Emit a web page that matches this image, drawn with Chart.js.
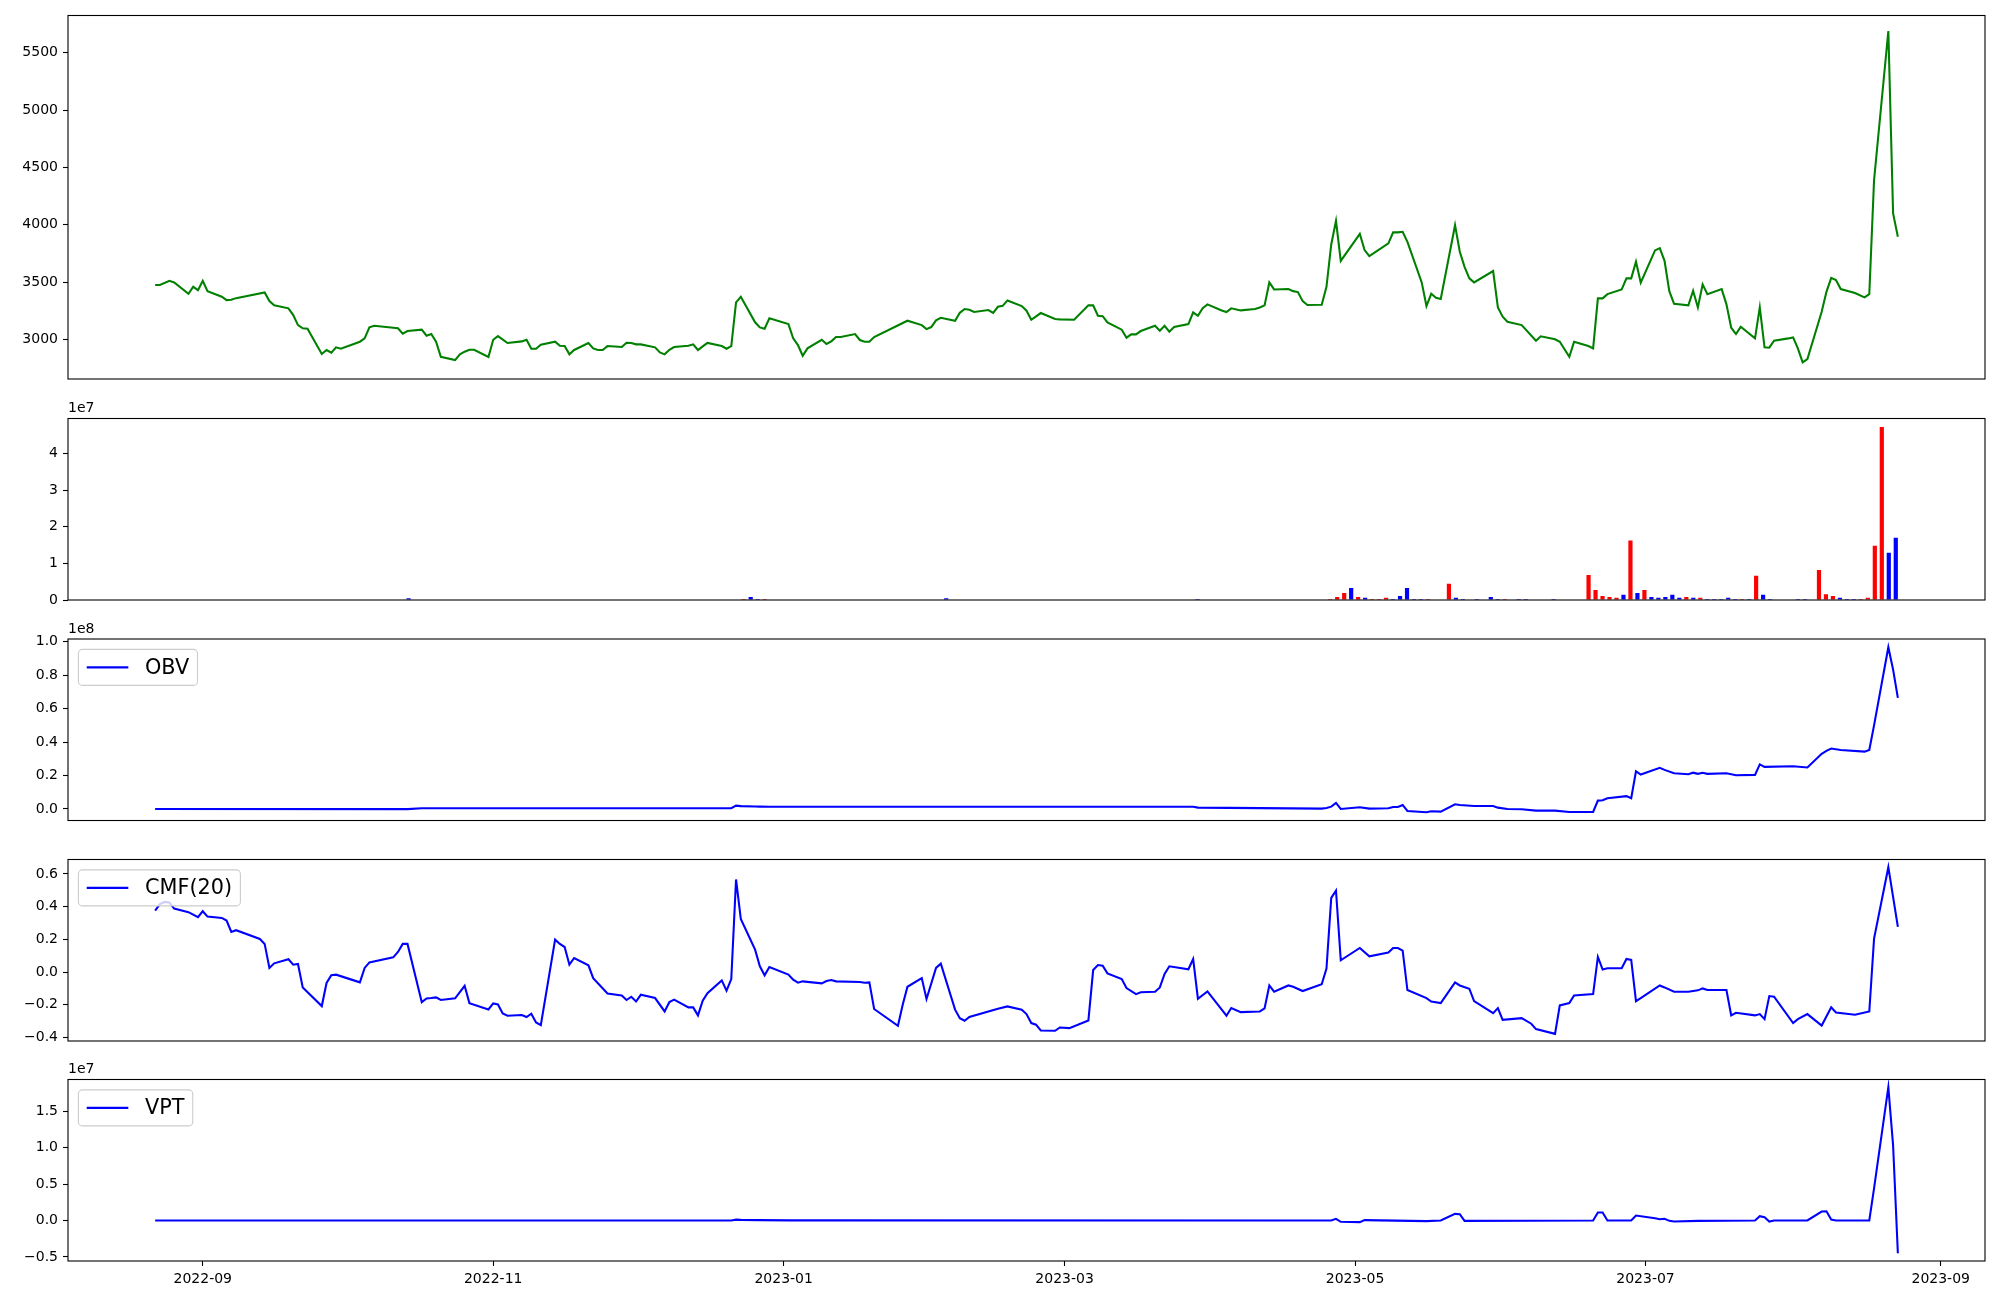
<!DOCTYPE html>
<html><head><meta charset="utf-8">
<script src="https://cdn.jsdelivr.net/npm/chart.js@4.4.0/dist/chart.umd.min.js"></script>
<style>
html,body{margin:0;padding:0;background:#fff;}
body{width:2000px;height:1300px;position:relative;overflow:hidden;}
canvas{position:absolute;left:0;}
</style></head><body>
<canvas id="cPrice" width="2000" height="400" style="top:0px"></canvas>
<canvas id="cVol" width="2000" height="230" style="top:390px"></canvas>
<canvas id="cObv" width="2000" height="231" style="top:610px"></canvas>
<canvas id="cCmf" width="2000" height="231" style="top:830px"></canvas>
<canvas id="cVpt" width="2000" height="250" style="top:1050px"></canvas>
<script>
// ---------------- DATA ----------------
const priceDates = ['2022-08-22','2022-08-23','2022-08-25','2022-08-26','2022-08-29','2022-08-30','2022-08-31','2022-09-01','2022-09-02','2022-09-05','2022-09-06','2022-09-07','2022-09-08','2022-09-14','2022-09-15','2022-09-16','2022-09-19','2022-09-20','2022-09-21','2022-09-22','2022-09-23','2022-09-26','2022-09-27','2022-09-28','2022-09-29','2022-09-30','2022-10-04','2022-10-05','2022-10-06','2022-10-07','2022-10-12','2022-10-13','2022-10-14','2022-10-17','2022-10-18','2022-10-19','2022-10-20','2022-10-21','2022-10-24','2022-10-25','2022-10-26','2022-10-27','2022-10-28','2022-10-31','2022-11-01','2022-11-02','2022-11-04','2022-11-07','2022-11-08','2022-11-09','2022-11-10','2022-11-11','2022-11-14','2022-11-15','2022-11-16','2022-11-17','2022-11-18','2022-11-21','2022-11-22','2022-11-23','2022-11-24','2022-11-25','2022-11-28','2022-11-29','2022-11-30','2022-12-01','2022-12-02','2022-12-05','2022-12-06','2022-12-07','2022-12-08','2022-12-09','2022-12-12','2022-12-13','2022-12-14','2022-12-15','2022-12-16','2022-12-19','2022-12-20','2022-12-21','2022-12-22','2022-12-23','2022-12-26','2022-12-27','2022-12-28','2022-12-29','2023-01-02','2023-01-03','2023-01-04','2023-01-05','2023-01-06','2023-01-09','2023-01-10','2023-01-11','2023-01-12','2023-01-13','2023-01-16','2023-01-17','2023-01-18','2023-01-19','2023-01-20','2023-01-27','2023-01-30','2023-01-31','2023-02-01','2023-02-02','2023-02-03','2023-02-06','2023-02-07','2023-02-08','2023-02-09','2023-02-10','2023-02-13','2023-02-14','2023-02-15','2023-02-16','2023-02-17','2023-02-20','2023-02-21','2023-02-22','2023-02-24','2023-02-27','2023-02-28','2023-03-03','2023-03-06','2023-03-07','2023-03-08','2023-03-09','2023-03-10','2023-03-13','2023-03-14','2023-03-15','2023-03-16','2023-03-17','2023-03-20','2023-03-21','2023-03-22','2023-03-23','2023-03-24','2023-03-27','2023-03-28','2023-03-29','2023-03-30','2023-03-31','2023-04-03','2023-04-04','2023-04-05','2023-04-07','2023-04-10','2023-04-11','2023-04-12','2023-04-13','2023-04-14','2023-04-17','2023-04-18','2023-04-19','2023-04-20','2023-04-21','2023-04-24','2023-04-25','2023-04-26','2023-04-27','2023-04-28','2023-05-02','2023-05-03','2023-05-04','2023-05-08','2023-05-09','2023-05-10','2023-05-11','2023-05-12','2023-05-15','2023-05-16','2023-05-17','2023-05-18','2023-05-19','2023-05-22','2023-05-23','2023-05-24','2023-05-25','2023-05-26','2023-05-30','2023-05-31','2023-06-01','2023-06-02','2023-06-05','2023-06-08','2023-06-09','2023-06-12','2023-06-13','2023-06-15','2023-06-16','2023-06-19','2023-06-20','2023-06-21','2023-06-22','2023-06-23','2023-06-26','2023-06-27','2023-06-28','2023-06-29','2023-06-30','2023-07-03','2023-07-04','2023-07-05','2023-07-06','2023-07-07','2023-07-10','2023-07-11','2023-07-12','2023-07-13','2023-07-14','2023-07-17','2023-07-18','2023-07-19','2023-07-20','2023-07-21','2023-07-24','2023-07-25','2023-07-26','2023-07-27','2023-07-28','2023-07-31','2023-08-01','2023-08-02','2023-08-03','2023-08-04','2023-08-07','2023-08-08','2023-08-09','2023-08-10','2023-08-11','2023-08-14','2023-08-16','2023-08-17','2023-08-18','2023-08-21','2023-08-22','2023-08-23'];
const priceValues = [3475,3475,3512,3498,3399,3460,3431,3512,3422,3373,3344,3347,3361,3411,3335,3298,3272,3213,3126,3098,3095,2874,2909,2885,2932,2920,2981,3010,3106,3120,3098,3051,3074,3086,3033,3048,2981,2850,2821,2871,2894,2911,2911,2848,2998,3030,2970,2984,2998,2920,2920,2955,2981,2946,2943,2871,2909,2970,2923,2909,2909,2943,2935,2972,2970,2958,2958,2932,2888,2871,2911,2935,2946,2958,2909,2940,2970,2943,2920,2943,3324,3373,3150,3106,3094,3185,3135,3010,2952,2859,2923,2998,2961,2984,3022,3022,3048,2996,2981,2981,3022,3164,3126,3091,3109,3167,3190,3164,3233,3266,3260,3240,3257,3233,3286,3294,3341,3292,3251,3172,3231,3179,3176,3172,3298,3298,3207,3204,3150,3086,3016,3045,3045,3074,3120,3077,3120,3068,3109,3135,3237,3207,3274,3307,3254,3240,3272,3254,3266,3280,3298,3498,3437,3440,3422,3414,3335,3301,3304,3460,3829,4035,3686,3922,3780,3727,3838,3934,3934,3939,3852,3498,3292,3399,3364,3353,3997,3765,3634,3533,3498,3597,3280,3199,3155,3126,2990,3028,3002,2981,2850,2981,2943,2923,3359,3359,3396,3437,3533,3533,3678,3495,3777,3797,3686,3422,3312,3298,3425,3280,3481,3396,3440,3307,3103,3048,3111,3010,3280,2932,2929,2990,3010,3019,2923,2801,2830,3242,3416,3538,3518,3440,3405,3368,3396,4389,5690,4099,3896];

// Volume: trading-day index (0 = 2022-08-22 ... 249 = 2023-08-23), value in units of 1e7, direction
const volumeIndex = [36,84,85,86,87,113,149,168,169,170,171,172,173,174,175,176,177,178,179,180,181,182,185,186,187,189,191,192,193,195,196,200,205,206,207,208,209,210,211,212,213,214,215,216,217,218,219,220,221,222,223,224,225,226,227,228,229,230,231,235,236,238,239,240,241,242,243,244,245,246,247,248,249];
const volumeE7 = [0.05,0.03,0.08,0.03,0.03,0.05,0.03,0.03,0.08,0.19,0.33,0.08,0.06,0.03,0.03,0.06,0.03,0.11,0.33,0.03,0.03,0.03,0.44,0.06,0.03,0.03,0.08,0.03,0.03,0.03,0.03,0.03,0.68,0.27,0.11,0.08,0.06,0.14,1.62,0.19,0.27,0.08,0.06,0.08,0.14,0.06,0.08,0.06,0.06,0.03,0.03,0.03,0.06,0.03,0.03,0.03,0.66,0.14,0.03,0.03,0.03,0.82,0.16,0.11,0.06,0.03,0.03,0.03,0.06,1.48,4.72,1.29,1.70];
const volumeDir = ['d','u','d','d','u','d','d','u','u','u','d','u','d','u','u','u','d','d','d','d','d','u','u','d','d','d','d','d','u','d','d','d','u','u','u','u','u','d','u','d','u','d','d','d','d','d','u','d','u','d','d','d','d','d','u','d','u','d','d','d','d','u','u','u','d','d','d','u','u','u','u','d','d'];

// OBV in units of 1e8
const obvDates = ['2022-08-22','2022-10-14','2022-10-17','2022-12-21','2022-12-22','2022-12-23','2022-12-26','2022-12-27','2022-12-29','2023-03-28','2023-03-29','2023-04-24','2023-04-25','2023-04-26','2023-04-27','2023-04-28','2023-05-02','2023-05-04','2023-05-08','2023-05-09','2023-05-10','2023-05-11','2023-05-12','2023-05-16','2023-05-17','2023-05-19','2023-05-22','2023-05-23','2023-05-26','2023-05-30','2023-05-31','2023-06-02','2023-06-05','2023-06-08','2023-06-12','2023-06-15','2023-06-20','2023-06-21','2023-06-22','2023-06-23','2023-06-27','2023-06-28','2023-06-29','2023-06-30','2023-07-04','2023-07-05','2023-07-07','2023-07-10','2023-07-11','2023-07-12','2023-07-13','2023-07-14','2023-07-18','2023-07-20','2023-07-24','2023-07-25','2023-07-26','2023-08-01','2023-08-04','2023-08-07','2023-08-08','2023-08-09','2023-08-11','2023-08-16','2023-08-17','2023-08-18','2023-08-21','2023-08-22','2023-08-23'];
const obvE8 = [0.000,-0.001,0.004,0.005,0.020,0.017,0.015,0.014,0.013,0.013,0.008,0.002,0.006,0.014,0.036,0.000,0.010,0.002,0.004,0.012,0.012,0.024,-0.012,-0.020,-0.014,-0.016,0.028,0.024,0.018,0.018,0.008,0.000,-0.002,-0.010,-0.010,-0.018,-0.018,0.050,0.052,0.064,0.077,0.064,0.226,0.206,0.246,0.234,0.214,0.208,0.217,0.210,0.217,0.210,0.214,0.202,0.204,0.267,0.252,0.256,0.248,0.330,0.348,0.362,0.353,0.343,0.353,0.500,0.968,0.834,0.665];

// CMF(20)
const cmfDates = ['2022-08-22','2022-08-23','2022-08-24','2022-08-25','2022-08-26','2022-08-29','2022-08-31','2022-09-01','2022-09-02','2022-09-05','2022-09-06','2022-09-07','2022-09-08','2022-09-13','2022-09-14','2022-09-15','2022-09-16','2022-09-19','2022-09-20','2022-09-21','2022-09-22','2022-09-26','2022-09-27','2022-09-28','2022-09-29','2022-10-04','2022-10-05','2022-10-06','2022-10-11','2022-10-12','2022-10-13','2022-10-14','2022-10-17','2022-10-18','2022-10-19','2022-10-20','2022-10-21','2022-10-24','2022-10-26','2022-10-27','2022-10-31','2022-11-01','2022-11-02','2022-11-03','2022-11-04','2022-11-07','2022-11-08','2022-11-09','2022-11-10','2022-11-11','2022-11-14','2022-11-15','2022-11-16','2022-11-17','2022-11-18','2022-11-21','2022-11-22','2022-11-25','2022-11-28','2022-11-29','2022-11-30','2022-12-01','2022-12-02','2022-12-05','2022-12-07','2022-12-08','2022-12-09','2022-12-12','2022-12-13','2022-12-14','2022-12-15','2022-12-16','2022-12-19','2022-12-20','2022-12-21','2022-12-22','2022-12-23','2022-12-26','2022-12-27','2022-12-28','2022-12-29','2023-01-02','2023-01-03','2023-01-04','2023-01-05','2023-01-09','2023-01-10','2023-01-11','2023-01-12','2023-01-17','2023-01-18','2023-01-19','2023-01-20','2023-01-25','2023-01-26','2023-01-27','2023-01-30','2023-01-31','2023-02-02','2023-02-03','2023-02-06','2023-02-07','2023-02-08','2023-02-09','2023-02-15','2023-02-17','2023-02-20','2023-02-21','2023-02-22','2023-02-23','2023-02-24','2023-02-27','2023-02-28','2023-03-02','2023-03-06','2023-03-07','2023-03-08','2023-03-09','2023-03-10','2023-03-13','2023-03-14','2023-03-16','2023-03-17','2023-03-20','2023-03-21','2023-03-22','2023-03-23','2023-03-27','2023-03-28','2023-03-29','2023-03-31','2023-04-04','2023-04-05','2023-04-07','2023-04-11','2023-04-12','2023-04-13','2023-04-14','2023-04-17','2023-04-18','2023-04-20','2023-04-24','2023-04-25','2023-04-26','2023-04-27','2023-04-28','2023-05-02','2023-05-04','2023-05-08','2023-05-09','2023-05-10','2023-05-11','2023-05-12','2023-05-16','2023-05-17','2023-05-19','2023-05-22','2023-05-23','2023-05-25','2023-05-26','2023-05-30','2023-05-31','2023-06-01','2023-06-05','2023-06-07','2023-06-08','2023-06-12','2023-06-13','2023-06-15','2023-06-16','2023-06-20','2023-06-21','2023-06-22','2023-06-23','2023-06-26','2023-06-27','2023-06-28','2023-06-29','2023-06-30','2023-07-04','2023-07-05','2023-07-07','2023-07-10','2023-07-12','2023-07-13','2023-07-14','2023-07-18','2023-07-19','2023-07-20','2023-07-24','2023-07-25','2023-07-26','2023-07-27','2023-07-28','2023-08-01','2023-08-02','2023-08-04','2023-08-07','2023-08-09','2023-08-10','2023-08-14','2023-08-17','2023-08-18','2023-08-21','2023-08-23'];
const cmfValues = [0.376,0.415,0.429,0.425,0.388,0.366,0.335,0.372,0.339,0.331,0.315,0.245,0.256,0.202,0.172,0.025,0.053,0.078,0.045,0.049,-0.094,-0.208,-0.067,-0.020,-0.016,-0.063,0.025,0.059,0.090,0.123,0.172,0.172,-0.184,-0.162,-0.159,-0.155,-0.171,-0.161,-0.084,-0.190,-0.229,-0.192,-0.198,-0.253,-0.267,-0.263,-0.275,-0.255,-0.308,-0.325,0.198,0.172,0.153,0.045,0.086,0.041,-0.037,-0.131,-0.143,-0.171,-0.151,-0.180,-0.139,-0.159,-0.241,-0.184,-0.169,-0.216,-0.216,-0.265,-0.175,-0.129,-0.051,-0.114,-0.043,0.566,0.325,0.137,0.035,-0.020,0.031,-0.016,-0.047,-0.065,-0.057,-0.069,-0.055,-0.049,-0.057,-0.061,-0.065,-0.063,-0.226,-0.329,-0.200,-0.090,-0.037,-0.165,0.025,0.051,-0.230,-0.282,-0.298,-0.275,-0.224,-0.210,-0.230,-0.257,-0.312,-0.322,-0.357,-0.359,-0.339,-0.343,-0.296,0.012,0.043,0.039,-0.008,-0.043,-0.098,-0.135,-0.124,-0.120,-0.094,-0.012,0.035,0.017,0.080,-0.163,-0.118,-0.267,-0.220,-0.245,-0.241,-0.222,-0.082,-0.120,-0.082,-0.090,-0.116,-0.075,0.021,0.453,0.498,0.072,0.147,0.096,0.119,0.147,0.147,0.131,-0.110,-0.159,-0.180,-0.190,-0.063,-0.082,-0.102,-0.178,-0.251,-0.220,-0.292,-0.282,-0.316,-0.349,-0.378,-0.204,-0.190,-0.143,-0.135,0.092,0.015,0.023,0.023,0.080,0.074,-0.178,-0.159,-0.082,-0.094,-0.120,-0.120,-0.112,-0.100,-0.110,-0.110,-0.265,-0.249,-0.265,-0.257,-0.288,-0.147,-0.151,-0.312,-0.288,-0.257,-0.327,-0.216,-0.247,-0.261,-0.241,0.204,0.641,0.276];

// VPT in units of 1e7
const vptDates = ['2022-08-22','2022-12-21','2022-12-22','2022-12-23','2022-12-27','2023-01-02','2023-04-26','2023-04-27','2023-04-28','2023-05-02','2023-05-03','2023-05-16','2023-05-19','2023-05-22','2023-05-23','2023-05-24','2023-06-20','2023-06-21','2023-06-22','2023-06-23','2023-06-28','2023-06-29','2023-07-03','2023-07-04','2023-07-05','2023-07-06','2023-07-07','2023-07-12','2023-07-24','2023-07-25','2023-07-26','2023-07-27','2023-07-28','2023-08-04','2023-08-07','2023-08-08','2023-08-09','2023-08-10','2023-08-17','2023-08-18','2023-08-21','2023-08-22','2023-08-23'];
const vptE7 = [0.000,0.000,0.012,0.008,0.005,0.002,0.000,0.023,-0.018,-0.023,0.005,-0.009,0.000,0.091,0.087,-0.005,0.000,0.109,0.109,0.000,0.000,0.068,0.030,0.018,0.023,-0.005,-0.014,-0.005,0.000,0.059,0.045,-0.014,0.000,0.000,0.123,0.127,0.014,0.000,0.000,0.44,1.83,1.03,-0.45];

// Axis ticks
const xTickDates = ['2022-09-01','2022-11-01','2023-01-01','2023-03-01','2023-05-01','2023-07-01','2023-09-01'];
const xTickLabels = ['2022-09','2022-11','2023-01','2023-03','2023-05','2023-07','2023-09'];
const priceTicks = [3000,3500,4000,4500,5000,5500];
const volumeTicks = [0,1,2,3,4];
const obvTicks = [0,0.2,0.4,0.6,0.8,1.0];
const cmfTicks = [-0.4,-0.2,0,0.2,0.4,0.6];
const vptTicks = [-0.5,0,0.5,1.0,1.5];

// ---------------- RENDER ----------------
Chart.defaults.font.family = '"DejaVu Sans", sans-serif';
Chart.defaults.font.size = 14;
Chart.defaults.color = '#000';

const LW = 2.08; // 1.5pt at 100 dpi
const BASE = Date.UTC(2022, 8, 1);
function dayNum(s) { const p = s.split('-').map(Number); return (Date.UTC(p[0], p[1]-1, p[2]) - BASE) / 86400000; }
function pts(dates, vals) { return dates.map((d, i) => ({x: dayNum(d), y: vals[i]})); }
const X_MIN = -28.3, X_MAX = 374.3;
const fmtMinus = v => (v < 0 ? '\u2212' : '') + Math.abs(v).toFixed(1);

const framePlugin = {
  id: 'frame',
  afterDraw(chart) {
    const a = chart.chartArea, ctx = chart.ctx;
    ctx.save(); ctx.strokeStyle = '#000'; ctx.lineWidth = 1.1;
    ctx.strokeRect(a.left, a.top, a.right - a.left, a.bottom - a.top);
    ctx.restore();
  }
};
function offsetPlugin(text) {
  return { id: 'offsetText', afterDraw(chart) {
    const a = chart.chartArea, ctx = chart.ctx;
    ctx.save(); ctx.fillStyle = '#000'; ctx.font = '14px "DejaVu Sans"';
    ctx.textAlign = 'left'; ctx.textBaseline = 'bottom';
    ctx.fillText(text, a.left, a.top - 3);
    ctx.restore();
  }};
}
const mplLegend = {
  id: 'mplLegend',
  afterDatasetsDraw(chart) {
    const ds = chart.data.datasets[0];
    const ctx = chart.ctx, a = chart.chartArea, fs = 20.8;
    ctx.save();
    ctx.font = fs + 'px "DejaVu Sans"';
    const tw = ctx.measureText(ds.label).width;
    const pad = 0.4 * fs, hl = 2 * fs, htp = 0.8 * fs;
    const x = a.left + 0.5 * fs, y = a.top + 0.5 * fs;
    const w = pad * 2 + hl + htp + tw, h = 36, r = 4;
    ctx.beginPath();
    ctx.moveTo(x + r, y); ctx.lineTo(x + w - r, y); ctx.arcTo(x + w, y, x + w, y + r, r);
    ctx.lineTo(x + w, y + h - r); ctx.arcTo(x + w, y + h, x + w - r, y + h, r);
    ctx.lineTo(x + r, y + h); ctx.arcTo(x, y + h, x, y + h - r, r);
    ctx.lineTo(x, y + r); ctx.arcTo(x, y, x + r, y, r); ctx.closePath();
    ctx.fillStyle = 'rgba(255,255,255,0.8)'; ctx.fill();
    ctx.strokeStyle = '#cccccc'; ctx.lineWidth = 1.1; ctx.stroke();
    ctx.beginPath(); ctx.moveTo(x + pad, y + h / 2); ctx.lineTo(x + pad + hl, y + h / 2);
    ctx.strokeStyle = ds.borderColor; ctx.lineWidth = LW; ctx.stroke();
    ctx.fillStyle = '#000'; ctx.textAlign = 'left'; ctx.textBaseline = 'middle';
    ctx.fillText(ds.label, x + pad + hl + htp, y + h / 2 + 1);
    ctx.restore();
  }
};

function yScale(min, max, ticks, fmt) {
  return {
    type: 'linear', min: min, max: max,
    afterBuildTicks: s => { s.ticks = ticks.map(v => ({value: v})); },
    afterFit: s => { s.width = 68; },
    grid: {display: true, drawOnChartArea: false, drawTicks: true, tickLength: 5, tickColor: '#000', tickWidth: 1.1},
    border: {display: false},
    ticks: {color: '#000', font: {size: 14}, padding: 5, callback: fmt}
  };
}
function xHidden(min, max) {
  return {type: 'linear', min: min, max: max, display: false, offset: false};
}
function xDates() {
  return {
    type: 'linear', min: X_MIN, max: X_MAX, offset: false,
    afterBuildTicks: s => { s.ticks = xTickDates.map(d => ({value: dayNum(d)})); },
    afterFit: s => { s.height = 39; },
    grid: {display: true, drawOnChartArea: false, drawTicks: true, tickLength: 5, tickColor: '#000', tickWidth: 1.1},
    border: {display: false},
    ticks: {color: '#000', font: {size: 14}, padding: 5, maxRotation: 0, autoSkip: false,
            callback: (v, i) => xTickLabels[i]}
  };
}
function baseOpts(padTop, padBottom, xs, ys) {
  return {
    responsive: false, animation: false, devicePixelRatio: 1,
    layout: {padding: {top: padTop, bottom: padBottom, left: 0, right: 15}},
    plugins: {legend: {display: false}, tooltip: {enabled: false}, title: {display: false}},
    scales: {x: xs, y: ys},
    elements: {point: {radius: 0}, line: {tension: 0}}
  };
}
function lineDs(label, data, color) {
  return {label: label, data: data, borderColor: color, backgroundColor: color, borderWidth: LW, pointRadius: 0, fill: false};
}

// Price
new Chart(document.getElementById('cPrice'), {
  type: 'line',
  data: {datasets: [lineDs('Close', pts(priceDates, priceValues), '#008000')]},
  options: baseOpts(15.5, 21, xHidden(X_MIN, X_MAX), yScale(2656, 5825, priceTicks, v => String(v))),
  plugins: [framePlugin]
});

// Volume
new Chart(document.getElementById('cVol'), {
  type: 'bar',
  data: {datasets: [{
    label: 'Volume',
    data: volumeIndex.map((ix, k) => ({x: ix, y: volumeE7[k]})),
    backgroundColor: volumeDir.map(d => d === 'u' ? '#ff0000' : '#0000ff'),
    barPercentage: 0.6, categoryPercentage: 1.0, grouped: false
  }]},
  options: baseOpts(28.5, 20, xHidden(-12.78, 261.78), yScale(0, 4.95, volumeTicks, v => String(v))),
  plugins: [framePlugin, offsetPlugin('1e7')]
});

// OBV
new Chart(document.getElementById('cObv'), {
  type: 'line',
  data: {datasets: [lineDs('OBV', pts(obvDates, obvE8), '#0000ff')]},
  options: baseOpts(29, 20.5, xHidden(X_MIN, X_MAX), yScale(-0.069, 1.017, obvTicks, v => v.toFixed(1))),
  plugins: [framePlugin, offsetPlugin('1e8'), mplLegend]
});

// CMF
new Chart(document.getElementById('cCmf'), {
  type: 'line',
  data: {datasets: [lineDs('CMF(20)', pts(cmfDates, cmfValues), '#0000ff')]},
  options: baseOpts(29.5, 20, xHidden(X_MIN, X_MAX), yScale(-0.4216, 0.688, cmfTicks, fmtMinus)),
  plugins: [framePlugin, mplLegend]
});

// VPT
new Chart(document.getElementById('cVpt'), {
  type: 'line',
  data: {datasets: [lineDs('VPT', pts(vptDates, vptE7), '#0000ff')]},
  options: baseOpts(29.5, 0, xDates(), yScale(-0.556, 1.935, vptTicks, fmtMinus)),
  plugins: [framePlugin, offsetPlugin('1e7'), mplLegend]
});
</script>
</body></html>
